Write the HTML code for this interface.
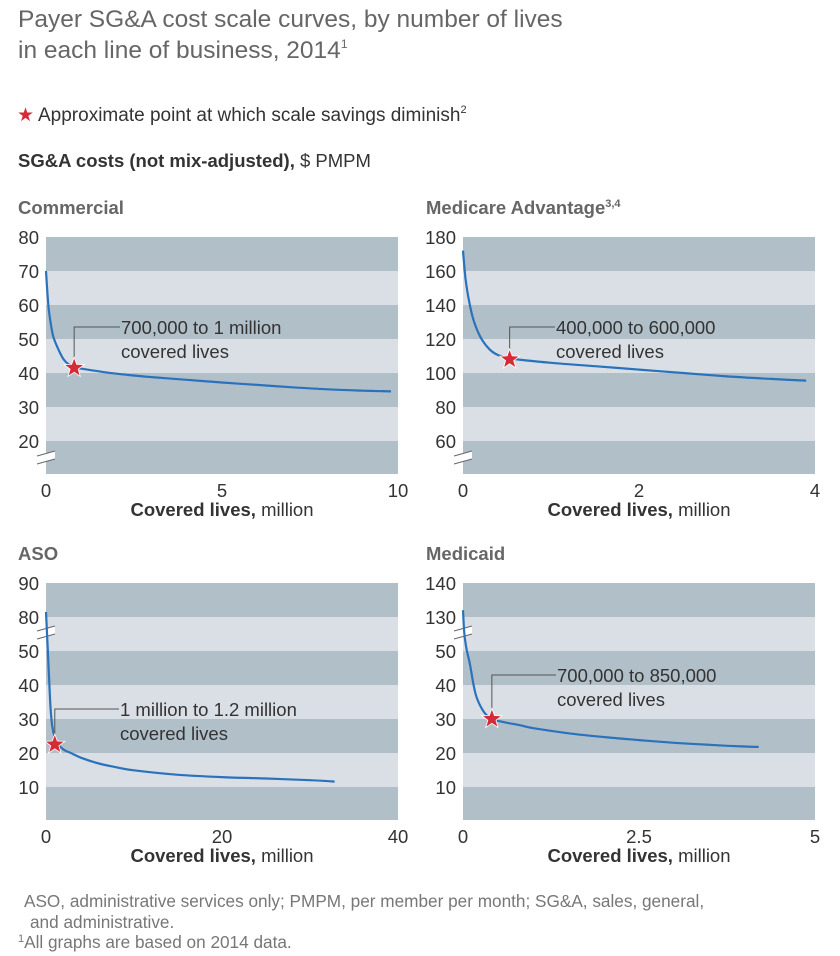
<!DOCTYPE html>
<html><head><meta charset="utf-8">
<style>
html,body{margin:0;padding:0;background:#fff;}
svg{display:block;font-family:"Liberation Sans",Arial,sans-serif;}
</style></head>
<body>
<svg id="chart" width="840" height="956" viewBox="0 0 840 956" xmlns="http://www.w3.org/2000/svg">
<text x="18" y="27" font-size="24.5" fill="#666">Payer SG&amp;A cost scale curves, by number of lives</text>
<text x="18" y="58" font-size="24.5" fill="#666">in each line of business, 2014<tspan font-size="12" dy="-10">1</tspan></text>
<text x="17" y="121" font-size="19" fill="#d52b36">★</text>
<text x="38" y="121" font-size="19" fill="#333">Approximate point at which scale savings diminish<tspan font-size="11" dy="-8">2</tspan></text>
<text x="18" y="167" font-size="18.5" fill="#333"><tspan font-weight="bold">SG&amp;A costs (not mix-adjusted),</tspan> $ PMPM</text>
<g id="panels"></g>
<text x="24" y="907" font-size="17.2" fill="#777">ASO, administrative services only; PMPM, per member per month; SG&amp;A, sales, general,</text>
<text x="30" y="928" font-size="17.2" fill="#777">and administrative.</text>
<text x="18" y="948" font-size="17.2" fill="#777"><tspan font-size="11" dy="-6">1</tspan><tspan dy="6">All graphs are based on 2014 data.</tspan></text>
</svg>
<script>
// Commercial
const comTicks = [80,70,60,50,40,30,20,10];
const comXTicks = [0,5,10];
const comX = [0,0.05,0.1,0.2,0.35,0.5,0.65,0.8,1,2,3,4,5,6,7,8,9,9.8];
const comY = [70,62,57,51,47,44,42.5,41.8,41.3,39.8,38.8,38,37.2,36.5,35.8,35.2,34.8,34.6];
const comStar = [0.8,41.5];
// Medicare Advantage
const maTicks = [180,160,140,120,100,80,60,40];
const maXTicks = [0,2,4];
const maX = [0,0.03,0.07,0.12,0.2,0.3,0.4,0.55,1,1.5,2,2.5,3,3.5,3.9];
const maY = [172,155,142,131,121,114,110.5,108.5,106,104,102,100,98,96.5,95.5];
const maStar = [0.53,108];
// ASO (broken axis)
const asoTicks = [90,80,50,40,30,20,10,0];
const asoXTicks = [0,20,40];
const asoX = [0,0.15,0.3,0.5,0.7,1,1.3,2,3,4,6,8,10,15,20,25,30,32.8];
const asoY = [81.5,60,45,34,28,24.5,22.8,21,19.8,18.6,16.9,15.8,14.9,13.6,12.9,12.5,12,11.6];
const asoStar = [1.0,22.5];
// Medicaid (broken axis)
const mcdTicks = [140,130,50,40,30,20,10,0];
const mcdXTicks = [0,2.5,5];
const mcdX = [0,0.02,0.05,0.1,0.15,0.2,0.3,0.41,0.6,0.8,1,1.5,2,2.5,3,3.5,4,4.2];
const mcdY = [132,90,55,46,40,36,32,30,29,28.2,27.3,25.8,24.7,23.8,23,22.4,21.9,21.8];
const mcdStar = [0.41,30];

const NS="http://www.w3.org/2000/svg";
const root=document.getElementById('panels');
function mk(tag,attrs,parent){const e=document.createElementNS(NS,tag);for(const k in attrs)e.setAttribute(k,attrs[k]);(parent||root).appendChild(e);return e;}

function smooth(P){
  let d='M'+P[0][0].toFixed(1)+','+P[0][1].toFixed(1);
  for(let i=0;i<P.length-1;i++){
    const p0=P[Math.max(0,i-1)],p1=P[i],p2=P[i+1],p3=P[Math.min(P.length-1,i+2)];
    const c1=[p1[0]+(p2[0]-p0[0])/6,p1[1]+(p2[1]-p0[1])/6];
    const c2=[p2[0]-(p3[0]-p1[0])/6,p2[1]-(p3[1]-p1[1])/6];
    d+=` C${c1[0].toFixed(1)},${c1[1].toFixed(1)} ${c2[0].toFixed(1)},${c2[1].toFixed(1)} ${p2[0].toFixed(1)},${p2[1].toFixed(1)}`;
  }
  return d;
}

function panel(p){
  const g=mk('g',{});
  
  
  const x0=p.left,x1=p.left+352,y0=p.top,step=34;
  const n=p.ticks.length-1;
  const yBottom=y0+step*n - (step - p.lastStep);
  const xs=v=>x0+(v-p.xt[0])/(p.xt[p.xt.length-1]-p.xt[0])*(x1-x0);
  function ys(v){
    const t=p.ticks;
    for(let i=0;i<t.length-1;i++){
      if(v<=t[i]&&v>=t[i+1]){
        const ya=y0+i*step, yb=(i+1===n)?yBottom:y0+(i+1)*step;
        return ya+(t[i]-v)/(t[i]-t[i+1])*(yb-ya);
      }
    }
    return v>t[0]?y0:yBottom;
  }
  for(let i=0;i<n;i++){
    const ya=y0+i*step, yb=(i+1===n)?yBottom:y0+(i+1)*step;
    const r=mk('rect',{x:x0,y:ya,width:x1-x0,height:yb-ya,fill:i%2?'#dadfe6':'#b1bfc8'},g);
    
    
  }
  p.ticks.forEach((t,i)=>{
    if(i===n) return;
    const tx=mk('text',{x:x0-7,y:y0+i*step+7,'font-size':18.5,fill:'#333','text-anchor':'end'},g);
    tx.textContent=t;
    
    
  });
  p.xt.forEach(t=>{
    const tx=mk('text',{x:xs(t),y:yBottom+23,'font-size':18.5,fill:'#333','text-anchor':'middle'},g);
    tx.textContent=t;
    
    
  });
  const at=mk('text',{x:(x0+x1)/2,y:yBottom+42,'font-size':18.5,fill:'#333','text-anchor':'middle'},g);
  at.innerHTML='<tspan font-weight="bold">Covered lives,</tspan> million';
  
  
  const tt=mk('text',{x:x0-p.titleOff,y:y0-23,'font-size':18.5,'font-weight':'bold',fill:'#666'},g);
  tt.innerHTML=p.title;
  
  
  // break mark
  const by=p.breakY;
  const bm=mk('path',{d:`M${x0-9},${by-1} L${x0+9},${by-6} L${x0+9},${by+2} L${x0-9},${by+7} Z`,fill:'#fff'},g);
  
  
  mk('path',{d:`M${x0-9},${by-1} L${x0+9},${by-6} M${x0-9},${by+7} L${x0+9},${by+2}`,stroke:'#666','stroke-width':1,fill:'none'},g);
  // curve
  const P=p.x.map((v,i)=>[xs(v),ys(p.y[i])]);
  const c=mk('path',{d:smooth(P),fill:'none',stroke:'#2a72bb','stroke-width':2.2,'stroke-linejoin':'round'},g);
  
  
  // annotation
  const sx=xs(p.star[0]), sy=ys(p.star[1]);
  mk('path',{d:`M${sx},${sy} L${sx},${p.annY} L${p.annX},${p.annY}`,fill:'none',stroke:'#555','stroke-width':1},g);
  const a1=mk('text',{x:p.annX+1,y:p.annY+7,'font-size':18.5,fill:'#333'},g);
  a1.textContent=p.ann1;
  
  
  const a2=mk('text',{x:p.annX+1,y:p.annY+31,'font-size':18.5,fill:'#333'},g);
  a2.textContent='covered lives';
  
  
  // star
  const pts=[];
  for(let k=0;k<10;k++){const r=k%2?4.3:10.5;const a=-Math.PI/2+k*Math.PI/5;pts.push((sx+r*Math.cos(a)).toFixed(1)+','+(sy+r*Math.sin(a)).toFixed(1));}
  const st=mk('polygon',{points:pts.join(' '),fill:'#d52b36',stroke:'#fff','stroke-width':0.8},g);
  
  
}

panel({name:'commercial',title:'Commercial',titleOff:28,left:46,top:237,ticks:comTicks,lastStep:33,xt:comXTicks,x:comX,y:comY,star:comStar,breakY:457,annX:120,annY:327,ann1:'700,000 to 1 million'});
panel({name:'medicare-advantage',title:'Medicare Advantage<tspan font-size="11" dy="-7">3,4</tspan>',titleOff:37,left:463,top:237,ticks:maTicks,lastStep:33,xt:maXTicks,x:maX,y:maY,star:maStar,breakY:457,annX:555,annY:327,ann1:'400,000 to 600,000'});
panel({name:'aso',title:'ASO',titleOff:28,left:46,top:583,ticks:asoTicks,lastStep:33,xt:asoXTicks,x:asoX,y:asoY,star:asoStar,breakY:632,annX:119,annY:709,ann1:'1 million to 1.2 million'});
panel({name:'medicaid',title:'Medicaid',titleOff:37,left:463,top:583,ticks:mcdTicks,lastStep:33,xt:mcdXTicks,x:mcdX,y:mcdY,star:mcdStar,breakY:632,annX:556,annY:675,ann1:'700,000 to 850,000'});
</script>
</body></html>
